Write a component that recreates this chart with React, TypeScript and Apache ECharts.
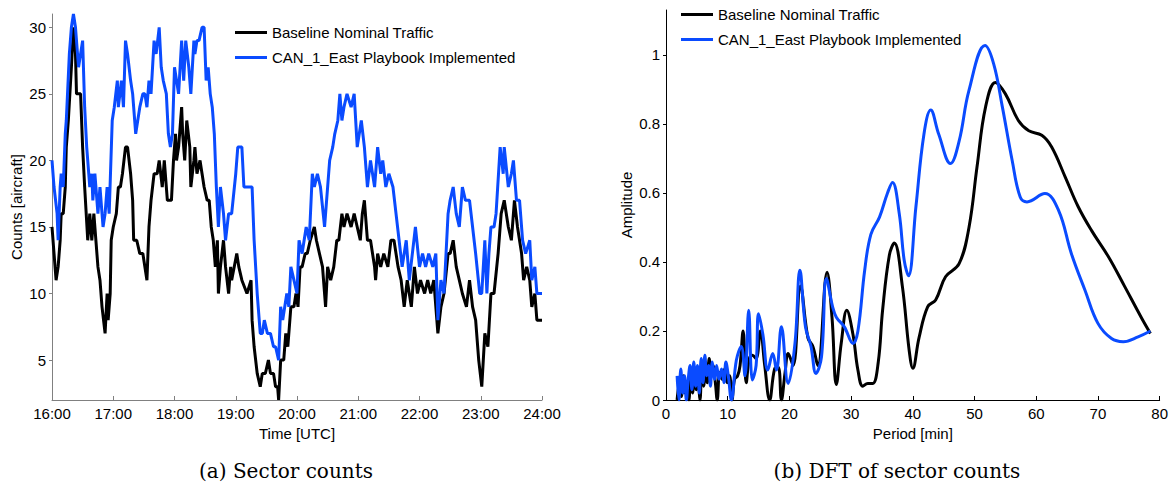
import React, { useEffect, useRef } from 'react';
import * as echarts from 'echarts';

// (a) sector counts: minutes after 16:00 and aircraft counts
const baselineMinutes = [0, 2, 4, 6, 8, 9, 11, 13, 14, 16, 19, 21, 23, 24, 28, 30, 32, 35, 37, 39, 41, 43, 45, 47, 49, 52, 54, 55, 57, 58, 60, 63, 65, 67, 69, 72, 74, 77, 79, 80, 83, 86, 89, 93, 95, 97, 100, 103, 105, 108, 110, 113, 117, 119, 121, 122, 124, 127, 128, 130, 132, 135, 136, 139, 140, 142, 145, 147, 149, 152, 154, 156, 158, 160, 162, 163, 165, 168, 170, 173, 175, 176, 181, 183, 186, 191, 195, 196, 198, 201, 204, 206, 209, 212, 214, 217, 219, 221, 222, 224, 227, 229, 231, 234, 237, 239, 241, 243, 245, 248, 250, 253, 257, 259, 262, 265, 268, 270, 273, 276, 279, 281, 284, 286, 289, 293, 296, 299, 302, 304, 306, 309, 312, 316, 317, 319, 322, 325, 329, 332, 335, 339, 342, 345, 348, 352, 355, 358, 361, 365, 368, 371, 374, 378, 381, 384, 388, 390, 393, 396, 399, 402, 406, 409, 412, 415, 418, 421, 424, 427, 430, 433, 437, 440, 443, 447, 450, 453, 456, 460, 462, 465, 468, 470, 473, 475, 480];
const baselineCounts = [15, 13, 11, 12, 14, 16, 16, 18, 21, 23, 27, 30, 28, 25, 25, 21, 18, 14, 16, 14, 16, 14, 12, 11, 9, 7, 10, 8, 10, 14, 15, 16, 18, 18, 19, 21, 21, 19, 17, 14, 14, 13, 13, 11, 15, 17, 19, 19, 20, 18, 20, 17, 17, 20, 22, 20, 21, 24, 22, 20, 23, 21, 18, 20, 21, 19, 20, 19, 18, 17, 17, 15, 14, 12, 14, 10, 12, 14, 12, 10, 12, 11, 13, 12, 11, 10, 11, 8, 6, 4, 3, 4, 4, 5, 4, 4, 3, 3, 2, 5, 5, 7, 6, 9, 9, 10, 9, 12, 12, 13, 13, 14, 15, 14, 13, 12, 9, 12, 11, 12, 14, 14, 16, 15, 16, 15, 16, 15, 14, 16, 17, 14, 14, 12, 11, 13, 12, 13, 12, 14, 14, 12, 11, 9, 11, 9, 12, 10, 11, 10, 11, 10, 11, 7, 9, 10, 13, 13, 14, 12, 11, 10, 9, 11, 9, 8, 5, 3, 7, 6, 10, 10, 13, 16, 17, 15, 14, 17, 15, 13, 11, 12, 11, 9, 10, 8, 8];

const playbookMinutes = [0, 2, 5, 6, 8, 9, 11, 13, 14, 17, 19, 21, 23, 26, 28, 30, 32, 34, 36, 37, 39, 40, 42, 45, 47, 50, 52, 54, 56, 59, 61, 64, 65, 68, 70, 72, 74, 77, 79, 82, 84, 86, 89, 91, 93, 95, 97, 100, 102, 105, 107, 109, 112, 114, 116, 118, 120, 122, 124, 127, 129, 131, 134, 136, 139, 140, 142, 144, 147, 149, 151, 153, 155, 157, 159, 161, 163, 165, 168, 170, 173, 176, 180, 182, 186, 188, 196, 198, 201, 204, 206, 208, 211, 214, 217, 219, 222, 224, 226, 228, 230, 232, 234, 237, 240, 242, 245, 249, 252, 255, 257, 260, 263, 267, 270, 272, 275, 277, 280, 282, 284, 286, 289, 293, 296, 299, 303, 306, 309, 312, 316, 319, 322, 324, 327, 330, 334, 337, 340, 343, 347, 350, 353, 356, 360, 363, 366, 369, 373, 376, 378, 381, 384, 388, 390, 393, 396, 399, 402, 405, 409, 412, 415, 419, 421, 424, 426, 428, 430, 433, 435, 439, 442, 443, 447, 450, 452, 455, 458, 461, 464, 468, 470, 473, 475, 480];
const playbookCounts = [20, 18, 16, 14, 18, 19, 18, 22, 23, 28, 30, 31, 30, 27, 28, 29, 24, 21, 19, 18, 19, 17, 19, 16, 18, 15, 16, 18, 16, 23, 24, 26, 24, 26, 24, 29, 28, 26, 25, 22, 23, 24, 25, 25, 24, 26, 25, 29, 28, 30, 27, 26, 25, 22, 21, 22, 27, 26, 25, 29, 26, 29, 27, 25, 29, 28, 29, 29, 30, 30, 26, 27, 25, 24, 22, 18, 15, 18, 16, 14, 16, 16, 19, 21, 21, 18, 18, 14, 10, 7, 7, 8, 7, 7, 6, 6, 5, 9, 8, 9, 10, 9, 12, 11, 10, 14, 13, 15, 14, 19, 18, 19, 18, 15, 18, 20, 21, 22, 23, 25, 23, 24, 25, 24, 25, 21, 23, 21, 18, 20, 18, 21, 19, 20, 18, 19, 18, 16, 14, 12, 14, 11, 13, 15, 12, 13, 12, 13, 12, 13, 8, 11, 10, 16, 17, 18, 16, 15, 18, 17, 17, 15, 13, 10, 10, 14, 10, 13, 15, 15, 16, 21, 19, 21, 18, 19, 20, 17, 17, 14, 13, 14, 11, 12, 10, 10];

// (b) DFT: period [min] and amplitude
const baselinePeriod = [1.8, 2.2, 2.5, 2.8, 3.1, 3.4, 3.7, 4.0, 4.3, 4.6, 4.9, 5.2, 5.5, 5.8, 6.1, 6.4, 6.7, 7.0, 7.3, 7.6, 8.0, 8.3, 8.7, 9.1, 9.5, 9.9, 10.3, 10.7, 11.1, 11.6, 12.0, 12.5, 13.0, 13.5, 14.0, 14.6, 15.3, 16.0, 16.8, 17.6, 18.2, 18.7, 19.3, 19.8, 20.6, 21.8, 23.0, 23.8, 24.6, 26.1, 26.9, 27.6, 28.4, 29.3, 30.3, 31.1, 31.9, 32.7, 33.5, 34.4, 35.1, 36.2, 37.0, 38.3, 39.4, 40.0, 41.0, 42.4, 43.7, 45.3, 47.5, 49.1, 50.4, 51.8, 53.4, 55.0, 57.1, 58.8, 60.9, 62.5, 64.7, 66.8, 69.0, 71.7, 74.3, 77.0, 78.5];
const baselineAmplitude = [0.0, 0.05, 0.01, 0.07, 0.02, 0.04, 0.0, 0.06, 0.02, 0.09, 0.03, 0.05, 0.0, 0.08, 0.04, 0.11, 0.05, 0.12, 0.07, 0.1, 0.05, 0.0, 0.08, 0.06, 0.09, 0.05, 0.07, 0.0, 0.06, 0.07, 0.1, 0.2, 0.05, 0.12, 0.13, 0.12, 0.2, 0.1, 0.0, 0.09, 0.095, 0.0, 0.08, 0.135, 0.1, 0.33, 0.18, 0.155, 0.1, 0.37, 0.24, 0.045, 0.165, 0.26, 0.19, 0.087, 0.04, 0.048, 0.048, 0.11, 0.26, 0.42, 0.455, 0.33, 0.145, 0.092, 0.18, 0.27, 0.29, 0.357, 0.395, 0.5, 0.675, 0.85, 0.92, 0.887, 0.81, 0.78, 0.767, 0.733, 0.646, 0.56, 0.49, 0.415, 0.33, 0.24, 0.193];

const playbookPeriod = [1.8, 2.1, 2.4, 2.7, 3.0, 3.3, 3.6, 3.9, 4.2, 4.5, 4.8, 5.1, 5.4, 5.7, 6.0, 6.3, 6.6, 6.9, 7.2, 7.5, 7.9, 8.2, 8.6, 9.0, 9.4, 9.7, 10.1, 10.6, 11.4, 12.2, 12.8, 13.4, 14.0, 14.6, 15.0, 15.7, 16.5, 17.3, 17.9, 18.7, 19.8, 20.9, 21.7, 22.6, 23.5, 24.3, 25.2, 26.0, 27.0, 27.6, 28.9, 30.3, 31.1, 32.2, 33.2, 34.6, 35.9, 36.7, 37.8, 38.6, 39.3, 40.5, 41.8, 42.9, 44.2, 46.1, 47.5, 49.1, 51.7, 53.1, 54.5, 56.1, 57.4, 58.5, 61.4, 63.6, 65.7, 67.9, 70.0, 72.2, 74.1, 76.5, 78.5];
const playbookAmplitude = [0.07, 0.0, 0.09, 0.02, 0.07, 0.0, 0.06, 0.1, 0.03, 0.11, 0.04, 0.1, 0.02, 0.12, 0.05, 0.13, 0.07, 0.1, 0.04, 0.11, 0.06, 0.1, 0.06, 0.09, 0.05, 0.11, 0.07, 0.0, 0.115, 0.155, 0.07, 0.26, 0.058, 0.1, 0.25, 0.19, 0.087, 0.135, 0.087, 0.212, 0.048, 0.164, 0.376, 0.212, 0.155, 0.077, 0.125, 0.352, 0.27, 0.24, 0.212, 0.164, 0.2, 0.376, 0.48, 0.53, 0.6, 0.63, 0.54, 0.405, 0.36, 0.56, 0.77, 0.84, 0.77, 0.685, 0.75, 0.897, 1.027, 0.974, 0.85, 0.694, 0.588, 0.574, 0.598, 0.55, 0.424, 0.318, 0.222, 0.178, 0.169, 0.183, 0.2];

const countTicks = [5, 10, 15, 20, 25, 30];
const amplitudeTicks = [0, 0.2, 0.4, 0.6, 0.8, 1];

const BASELINE = 'Baseline Nominal Traffic';
const PLAYBOOK = 'CAN_1_East Playbook Implemented';
const BLUE = '#0a4bff';
const SANS = '"Liberation Sans", Arial, sans-serif';

const zip = (xs: number[], ys: number[]) => xs.map((x, i) => [x, ys[i]]);

const App: React.FC = () => {
  const chartRef = useRef<HTMLDivElement>(null);

  useEffect(() => {
    if (!chartRef.current) return;
    const chart = echarts.init(chartRef.current, null, { renderer: 'svg' });

    const labelStyle = { color: '#000', fontSize: 15, fontFamily: SANS };
    // plain 3px bars as legend keys, like the line samples of the original
    const legendBase = {
      orient: 'vertical',
      padding: 0,
      icon: 'rect',
      itemWidth: 32,
      itemHeight: 3,
      itemGap: 10,
      textStyle: { color: '#000', fontSize: 15, fontFamily: SANS },
      data: [BASELINE, PLAYBOOK],
    };

    const option = {
      animation: false,
      backgroundColor: '#fff',
      legend: [
        { ...legendBase, left: 235, top: 25 },
        { ...legendBase, left: 681, top: 7 },
      ],
      grid: [
        { left: 52, right: 629, top: 14, bottom: 82 },
        { left: 666, right: 9, top: 10, bottom: 82 },
      ],
      xAxis: [
        {
          gridIndex: 0,
          type: 'value',
          min: 0,
          max: 480,
          interval: 60,
          name: 'Time [UTC]',
          nameLocation: 'middle',
          nameGap: 24,
          nameTextStyle: labelStyle,
          axisLine: { lineStyle: { color: '#808080', width: 1 } },
          axisTick: { inside: true, length: 4, lineStyle: { color: '#808080' } },
          axisLabel: {
            ...labelStyle,
            margin: 6,
            formatter: (v: number) => `${16 + v / 60}:00`,
          },
          splitLine: { show: false },
        },
        {
          gridIndex: 1,
          type: 'value',
          min: 0,
          max: 80,
          interval: 10,
          name: 'Period [min]',
          nameLocation: 'middle',
          nameGap: 24,
          nameTextStyle: labelStyle,
          axisLine: { lineStyle: { color: '#000', width: 1 } },
          axisTick: { inside: true, length: 4, lineStyle: { color: '#000' } },
          axisLabel: { ...labelStyle, margin: 6 },
          splitLine: { show: false },
        },
      ],
      yAxis: [
        {
          gridIndex: 0,
          type: 'value',
          min: 2,
          max: 31,
          name: 'Counts [aircraft]',
          nameLocation: 'middle',
          nameGap: 28,
          nameTextStyle: labelStyle,
          axisLine: { show: true, lineStyle: { color: '#808080', width: 1 } },
          axisTick: { show: true, length: 3, customValues: countTicks, lineStyle: { color: '#808080' } },
          axisLabel: { ...labelStyle, margin: 6, customValues: countTicks },
          splitLine: { show: false },
        },
        {
          gridIndex: 1,
          type: 'value',
          min: 0,
          max: 1.13,
          name: 'Amplitude',
          nameLocation: 'middle',
          nameGap: 32,
          nameTextStyle: labelStyle,
          axisLine: { show: true, lineStyle: { color: '#000', width: 1 } },
          axisTick: { show: true, length: 3, customValues: amplitudeTicks, lineStyle: { color: '#000' } },
          axisLabel: { ...labelStyle, margin: 6, customValues: amplitudeTicks },
          splitLine: { show: false },
        },
      ],
      series: [
        {
          name: BASELINE,
          type: 'line',
          xAxisIndex: 0,
          yAxisIndex: 0,
          symbol: 'none',
          color: '#000',
          lineStyle: { color: '#000', width: 3 },
          data: zip(baselineMinutes, baselineCounts),
        },
        {
          name: PLAYBOOK,
          type: 'line',
          xAxisIndex: 0,
          yAxisIndex: 0,
          symbol: 'none',
          color: BLUE,
          lineStyle: { color: BLUE, width: 3 },
          data: zip(playbookMinutes, playbookCounts),
        },
        {
          name: BASELINE,
          type: 'line',
          xAxisIndex: 1,
          yAxisIndex: 1,
          symbol: 'none',
          smooth: 0.4,
          color: '#000',
          lineStyle: { color: '#000', width: 3 },
          data: zip(baselinePeriod, baselineAmplitude),
        },
        {
          name: PLAYBOOK,
          type: 'line',
          xAxisIndex: 1,
          yAxisIndex: 1,
          symbol: 'none',
          smooth: 0.4,
          color: BLUE,
          lineStyle: { color: BLUE, width: 3 },
          data: zip(playbookPeriod, playbookAmplitude),
        },
      ],
      graphic: [
        {
          type: 'text',
          x: 286,
          y: 471,
          style: {
            text: '(a) Sector counts',
            fill: '#000',
            fontSize: 20,
            fontFamily: '"DejaVu Serif", serif',
            align: 'center',
            verticalAlign: 'middle',
          },
        },
        {
          type: 'text',
          x: 897,
          y: 471,
          style: {
            text: '(b) DFT of sector counts',
            fill: '#000',
            fontSize: 20,
            fontFamily: '"DejaVu Serif", serif',
            align: 'center',
            verticalAlign: 'middle',
          },
        },
      ],
    };

    chart.setOption(option);

    return () => {
      chart.dispose();
    };
  }, []);

  return (
    <div
      ref={chartRef}
      style={{ position: 'fixed', left: 0, top: 0, width: '1171px', height: '482px', background: '#fff' }}
    />
  );
};

export default App;
